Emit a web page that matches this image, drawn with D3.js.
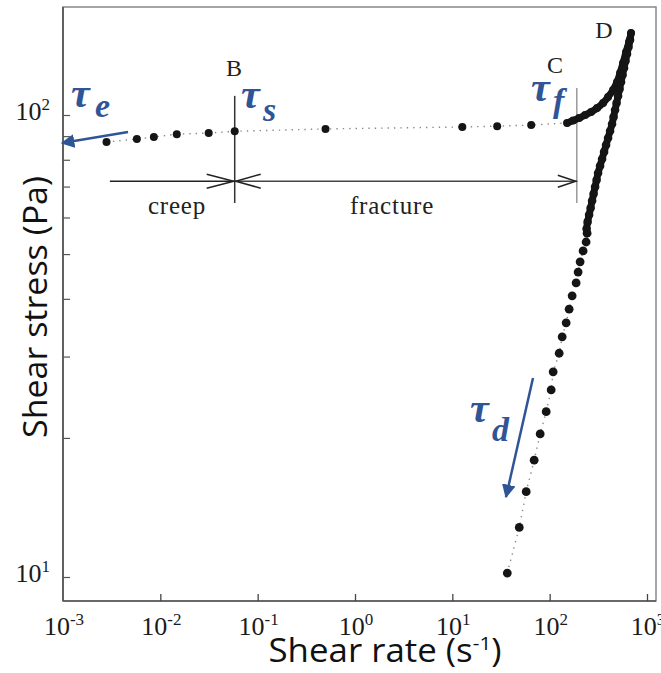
<!DOCTYPE html>
<html lang="en">
<head>
<meta charset="UTF-8">
<title>shear stress vs shear rate</title>
<script src="https://d3js.org/d3.v7.min.js"></script>
<style>
  body { margin: 0; background: #fff; }
</style>
</head>
<body>
<script>
// upper branch: creep + fracture (shear rate s^-1, stress Pa)
var upRate   = [0.0028, 0.00574, 0.00858, 0.01476, 0.0314, 0.0581, 0.498, 12.66, 28.9, 64.6, 151.1];
var upStress = [87.4, 88.7, 89.6, 90.9, 91.4, 92.2, 93.3, 94.2, 94.6, 95.1, 96.1];

// C -> D, the steep rise (dots overlap into a thick curve)
var riseRate   = [174.2, 200.7, 231.3, 266.4, 307.1, 353.8, 398.1, 448.0, 492.3, 528.5, 567.4, 609.0, 653.8, 685.4];
var riseStress = [97.3, 98.5, 100, 101.5, 103.5, 106.2, 109.4, 113.3, 117.9, 123.3, 129.6, 136.9, 143.9, 150.5];

// D -> down, dense part
var downRate   = [669.3, 646.1, 623.6, 601.9, 581.0, 560.8, 541.3, 522.5, 504.4, 486.8, 469.7, 453.4, 437.5, 417.4,
                  398.1, 379.7, 362.2, 345.5, 329.5, 314.4, 303.5, 292.9, 282.7, 272.9, 263.4, 254.2, 245.3, 239.6];
var downStress = [145.3, 140.4, 135.5, 130.9, 126.4, 122.1, 117.9, 113.8, 109.9, 106.2, 102.5, 99.0, 95.6, 92.3,
                  89.2, 86.1, 83.2, 80.3, 77.6, 74.9, 72.3, 69.9, 67.5, 65.2, 62.9, 60.8, 58.7, 56.7];

// down, sparse part
var tailRate   = [242.4, 236.8, 220.6, 205.5, 196.0, 187.0, 170.2, 158.5, 147.7, 134.4, 125.2, 108.6, 103.6, 92.1, 79.9, 69.3, 57.4, 48.7, 36.7];
var tailStress = [55.5, 53.1, 50.8, 48.1, 45.7, 43.3, 40.6, 38.0, 35.5, 33.1, 30.5, 27.8, 25.4, 22.8, 20.4, 17.9, 15.3, 12.8, 10.2];

var xTicks = [1e-3, 1e-2, 1e-1, 1e0, 1e1, 1e2, 1e3];
var xTickExp = ["-3", "-2", "-1", "0", "1", "2", "3"];
var yTicks = [10, 20, 30, 40, 50, 60, 70, 80, 90, 100];
var yLabelTicks = [10, 100];
var yTickExp = ["1", "2"];

// annotation anchors
var bRate = 0.0581, cRate = 190;
var creepStart = 0.00303;
var arrowStress = 71.9;

var W = 661, H = 673;
var plotL = 63, plotR = 656, plotT = 7, plotB = 601;

var x = d3.scaleLog().domain([1e-3, 1e3]).range([63, 647]);
var y = d3.scaleLog().domain([10, 100]).range([577, 115]);

var svg = d3.select("body").append("svg").attr("width", W).attr("height", H);

var ink = "#151515";
var blue = "#2f5597";
var serif = "'Liberation Serif', 'Times New Roman', serif";
var sans = "'Open Sans', 'Noto Sans', sans-serif";

// frame
svg.append("rect")
  .attr("x", plotL).attr("y", plotT)
  .attr("width", plotR - plotL).attr("height", plotB - plotT)
  .attr("fill", "none").attr("stroke", "#888").attr("stroke-width", 1.5);
svg.append("line").attr("x1", plotL).attr("x2", plotL).attr("y1", plotT).attr("y2", plotB)
  .attr("stroke", "#555").attr("stroke-width", 1.7);
svg.append("line").attr("x1", plotL).attr("x2", plotR).attr("y1", plotB).attr("y2", plotB)
  .attr("stroke", "#555").attr("stroke-width", 1.7);

// axes (ticks only, pointing inward)
var xAxis = svg.append("g").attr("transform", "translate(0," + plotB + ")")
  .call(d3.axisBottom(x).tickValues(xTicks.slice(1)).tickSize(-7).tickFormat(""));
xAxis.select(".domain").remove();
xAxis.selectAll("line").attr("stroke", "#444").attr("stroke-width", 1.3);

var yAxis = svg.append("g").attr("transform", "translate(" + plotL + ",0)")
  .call(d3.axisLeft(y).tickValues(yTicks).tickSize(-7).tickFormat(""));
yAxis.select(".domain").remove();
yAxis.selectAll("line").attr("stroke", "#555").attr("stroke-width", 1.2);

// tick labels with superscripts
xTicks.forEach(function(t, i) {
  var tx = svg.append("text")
    .attr("x", x(t) + 1).attr("y", 635)
    .attr("text-anchor", "middle")
    .attr("font-family", serif).attr("font-size", 26).attr("fill", "#1a1a1a");
  tx.append("tspan").text("10");
  tx.append("tspan").attr("dy", -10).attr("font-size", 17).text(xTickExp[i]);
});
yLabelTicks.forEach(function(t, i) {
  var tx = svg.append("text")
    .attr("x", 50).attr("y", y(t) + 5)
    .attr("text-anchor", "end")
    .attr("font-family", serif).attr("font-size", 26).attr("fill", "#1a1a1a");
  tx.append("tspan").text("10");
  tx.append("tspan").attr("dy", -10).attr("font-size", 17).text(yTickExp[i]);
});

// axis titles
var xt = svg.append("text")
  .attr("x", 385).attr("y", 662)
  .attr("text-anchor", "middle")
  .attr("font-family", sans).attr("font-size", 32).attr("fill", "#111")
  .attr("textLength", 233).attr("lengthAdjust", "spacingAndGlyphs");
xt.append("tspan").text("Shear rate (s");
xt.append("tspan").attr("dy", -12).attr("font-size", 19).text("-1");
xt.append("tspan").attr("dy", 12).text(")");

svg.append("text")
  .attr("transform", "translate(47,307) rotate(-90)")
  .attr("text-anchor", "middle")
  .attr("font-family", sans).attr("font-size", 32).attr("fill", "#111")
  .attr("textLength", 262).attr("lengthAdjust", "spacingAndGlyphs")
  .text("Shear stress (Pa)");

// dotted guide through all points
var allPts = [];
upRate.forEach(function(r, i) { allPts.push([r, upStress[i]]); });
riseRate.forEach(function(r, i) { allPts.push([r, riseStress[i]]); });
downRate.forEach(function(r, i) { allPts.push([r, downStress[i]]); });
tailRate.forEach(function(r, i) { allPts.push([r, tailStress[i]]); });

var line = d3.line().x(function(d) { return x(d[0]); }).y(function(d) { return y(d[1]); });
svg.append("path").datum(allPts)
  .attr("d", line)
  .attr("fill", "none").attr("stroke", "#8a8a8a").attr("stroke-width", 1.4)
  .attr("stroke-dasharray", "1.4,5");

// B and C markers
[bRate, cRate].forEach(function(r, i) {
  svg.append("line")
    .attr("x1", x(r)).attr("x2", x(r))
    .attr("y1", i === 0 ? y(110) : y(114.4)).attr("y2", y(64.5))
    .attr("stroke", i === 0 ? "#333" : "#999").attr("stroke-width", 1.5);
});

// creep / fracture arrows
var ay = y(arrowStress);
svg.append("line").attr("x1", x(creepStart)).attr("x2", x(bRate)).attr("y1", ay).attr("y2", ay)
  .attr("stroke", "#222").attr("stroke-width", 1.5);
svg.append("line").attr("x1", x(bRate)).attr("x2", x(cRate)).attr("y1", ay).attr("y2", ay)
  .attr("stroke", "#444").attr("stroke-width", 1.5);
function vHead(px, dir, len, half) {
  svg.append("path")
    .attr("d", "M" + (px - dir * len) + "," + (ay - half) + " L" + px + "," + ay + " L" + (px - dir * len) + "," + (ay + half))
    .attr("fill", "none").attr("stroke", "#222").attr("stroke-width", 1.5);
}
vHead(x(bRate) - 1, 1, 27, 7);
vHead(x(bRate) + 1, -1, 25, 7);
vHead(x(cRate) - 1, 1, 18, 6);

svg.append("text").attr("x", 177).attr("y", 214).attr("text-anchor", "middle")
  .attr("font-family", serif).attr("font-size", 25).attr("letter-spacing", 0.8).attr("fill", "#222").text("creep");
svg.append("text").attr("x", 392).attr("y", 214).attr("text-anchor", "middle")
  .attr("font-family", serif).attr("font-size", 25).attr("letter-spacing", 0.8).attr("fill", "#222").text("fracture");

// point letters
[["B", 234, 76], ["C", 555, 73], ["D", 604, 38]].forEach(function(d) {
  svg.append("text").attr("x", d[1]).attr("y", d[2]).attr("text-anchor", "middle")
    .attr("font-family", serif).attr("font-size", 24).attr("fill", "#222").text(d[0]);
});

// dense stretches: overlapping dots read as one thick stroke
var risePts = riseRate.map(function(r, i) { return [r, riseStress[i]]; });
risePts.unshift([upRate[upRate.length - 1], upStress[upStress.length - 1]]);
var downPts = [risePts[risePts.length - 1]].concat(downRate.map(function(r, i) { return [r, downStress[i]]; }));
[risePts, downPts].forEach(function(p) {
  svg.append("path").datum(p)
    .attr("d", d3.line().curve(d3.curveCatmullRom).x(function(d) { return x(d[0]); }).y(function(d) { return y(d[1]); }))
    .attr("fill", "none").attr("stroke", ink).attr("stroke-width", 7)
    .attr("stroke-linecap", "round").attr("stroke-linejoin", "round");
});

// data dots
function dots(rates, stresses, r) {
  svg.append("g").selectAll("circle")
    .data(rates)
    .enter()
    .append("circle")
    .attr("cx", function(d) { return x(d); })
    .attr("cy", function(d, i) { return y(stresses[i]); })
    .attr("r", r)
    .attr("fill", ink);
}
dots(upRate, upStress, 4);
dots(riseRate, riseStress, 4);
dots(downRate, downStress, 4.3);
dots(tailRate, tailStress, 4.4);

// blue annotations
var defs = svg.append("defs");
defs.append("marker").attr("id", "bh")
  .attr("viewBox", "0 0 10 10").attr("refX", 9).attr("refY", 5)
  .attr("markerWidth", 5.5).attr("markerHeight", 5.5).attr("orient", "auto")
  .append("path").attr("d", "M0,0 L10,5 L0,10 z").attr("fill", blue);

svg.append("line").attr("x1", 128).attr("y1", 132).attr("x2", 62).attr("y2", 143)
  .attr("stroke", blue).attr("stroke-width", 2.5).attr("marker-end", "url(#bh)");
svg.append("line").attr("x1", 533).attr("y1", 378).attr("x2", 506).attr("y2", 497)
  .attr("stroke", blue).attr("stroke-width", 2.5).attr("marker-end", "url(#bh)");

function tau(px, py, sub, sx, sy) {
  svg.append("text").attr("x", px).attr("y", py)
    .attr("font-family", serif).attr("font-size", 42).attr("font-weight", "bold").attr("font-style", "italic")
    .attr("fill", blue).text("\u03c4");
  svg.append("text").attr("x", sx).attr("y", sy)
    .attr("font-family", serif).attr("font-size", 34).attr("font-weight", "bold").attr("font-style", "italic")
    .attr("fill", blue).text(sub);
}
tau(71, 107, "e", 95, 117);
tau(241, 108, "s", 263, 121);
tau(531, 101, "f", 553, 112);
tau(470, 422, "d", 492, 441);
</script>
</body>
</html>
